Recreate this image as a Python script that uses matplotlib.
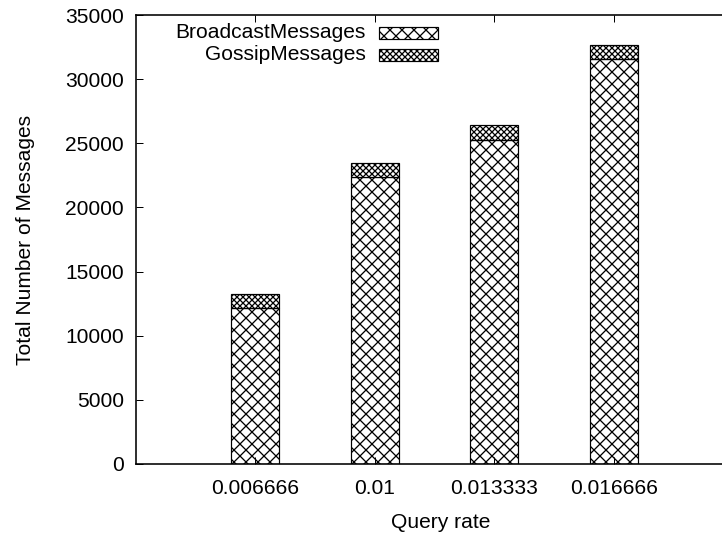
import matplotlib
matplotlib.use("Agg")
import matplotlib.pyplot as plt
from matplotlib.patches import Rectangle

plt.rcParams['font.family'] = ['Liberation Sans', 'DejaVu Sans']
plt.rcParams['hatch.linewidth'] = 1.3

query_rates = ['0.006666', '0.01', '0.013333', '0.016666']
broadcast = [12190, 22400, 25230, 31560]
gossip = [1070, 1090, 1230, 1110]

DPI = 72
W, H = 722, 533
FS = 21

fig = plt.figure(figsize=(W / DPI, H / DPI), dpi=DPI)
# axes in pixel terms: left 135.7, bottom 463.7, top 15.3, right off the image
left, right = 135.7, 733.2
top, bottom = 15.3, 463.7
ax = fig.add_axes([left / W, (H - bottom) / H, (right - left) / W, (bottom - top) / H])

x = list(range(len(query_rates)))
ax.bar(x, broadcast, width=0.4, color='white', edgecolor='black',
       linewidth=1.2, hatch='xx')
ax.bar(x, gossip, width=0.4, bottom=broadcast, color='white',
       edgecolor='black', linewidth=1.2, hatch='xxxx')

ax.set_xlim(-1, 4)
ax.set_ylim(0, 35000)
ax.set_xticks(x)
ax.set_xticklabels(query_rates)
ax.set_yticks(range(0, 35001, 5000))

ax.tick_params(axis='both', direction='in', length=7, width=1, labelsize=FS)
ax.tick_params(axis='x', top=True, pad=15)
ax.tick_params(axis='y', right=False, pad=12)

for s in ax.spines.values():
    s.set_linewidth(1.6)
ax.spines['right'].set_visible(False)

ax.set_xlabel('Query rate', fontsize=FS)
ax.set_ylabel('Total Number of Messages', fontsize=FS)
ax.xaxis.set_label_coords((441 - left) / (right - left), -0.11)
ax.yaxis.set_label_coords((35 - left) / (right - left), 0.5)

# legend, gnuplot style: right-aligned text with sample box after it
def px(xp, yp):
    return xp / W, (H - yp) / H

legend_rows = [('BroadcastMessages', 'xx', 33), ('GossipMessages', 'xxxx', 55)]
for label, hatch, yc in legend_rows:
    tx, ty = px(366, yc)
    fig.text(tx, ty, label, ha='right', va='center', fontsize=FS)
    rx, ry = px(379, yc + 5.5)
    fig.patches.append(Rectangle((rx, ry), 59 / W, 11 / H, transform=fig.transFigure,
                                 facecolor='white', edgecolor='black',
                                 linewidth=1.2, hatch=hatch, figure=fig))

fig.savefig('out.png', dpi=DPI)
